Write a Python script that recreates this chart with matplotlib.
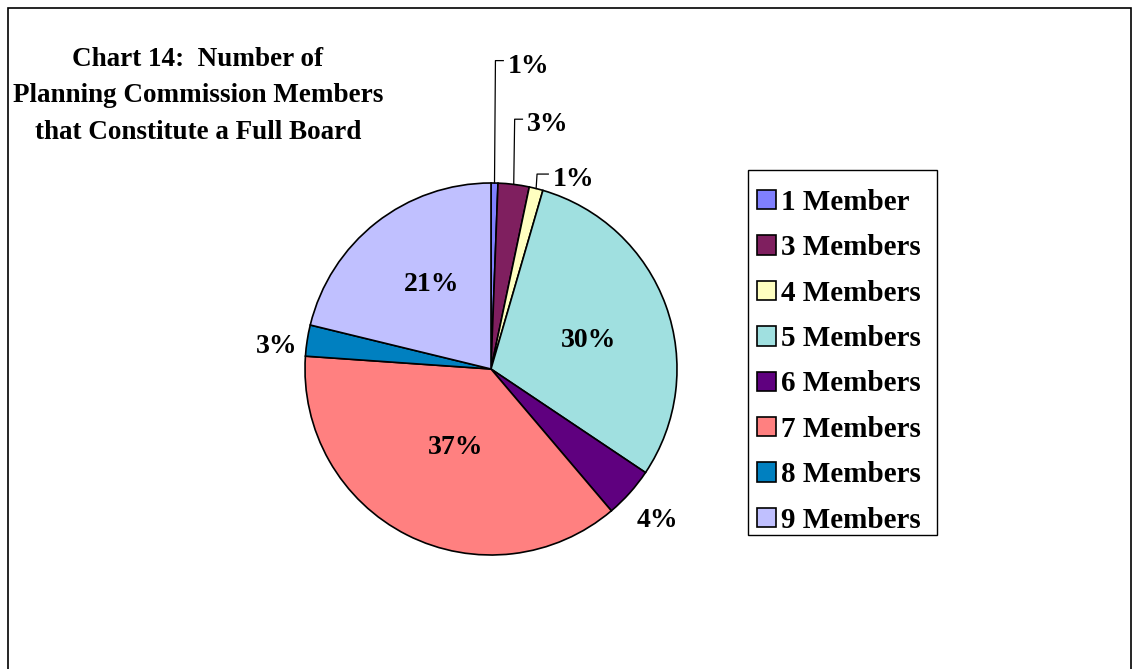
import numpy as np
import matplotlib.pyplot as plt
from matplotlib.patches import Rectangle

# Data (percent of respondents)
categories = ["1 Member", "3 Members", "4 Members", "5 Members",
              "6 Members", "7 Members", "8 Members", "9 Members"]
values = [0.6, 2.7, 1.2, 29.9, 4.4, 37.3, 2.7, 21.2]
colors = ["#8080FF", "#7F1F5F", "#FFFFC0", "#A0E0E0",
          "#5F007F", "#FF8080", "#0080C0", "#C0C0FF"]

W, H = 1135, 669
fig = plt.figure(figsize=(W / 100, H / 100), dpi=100)
plt.rcParams['font.family'] = ['Liberation Serif', 'DejaVu Serif']

# outer chart border
fig.add_artist(Rectangle((8 / W, -0.1), (1131 - 8) / W, (H - 8) / H + 0.1,
                         transform=fig.transFigure, fill=False,
                         lw=1.2, ec='black'))

cx, cy, r = 491, 369, 186
ax = fig.add_axes([(cx - r) / W, (H - cy - r) / H, 2 * r / W, 2 * r / H])
wedges, _ = ax.pie(values, colors=colors, startangle=90, counterclock=False,
                   wedgeprops=dict(edgecolor='black', linewidth=1.2))
ax.set_xlim(-1, 1)
ax.set_ylim(-1, 1)
ax.set_aspect('equal')
ax.axis('off')

fs = 20
# label placement: (radius, angle tweak in degrees) for labels on/next to slices
place = {3: (0.55, 2.3), 4: (1.2, 0.0), 5: (0.45, -1.5),
         6: (1.16, -2.2), 7: (0.565, 4.0)}
# small slices at the top: text x, text y (in pie radii)
top = {0: (0.091, 1.628), 1: (0.194, 1.313), 2: (0.333, 1.018)}

cum = np.cumsum([0] + values)
for i, v in enumerate(values):
    mid = np.radians((cum[i] + cum[i + 1]) / 2 / 100 * 360)
    sx, sy = np.sin(mid), np.cos(mid)
    lab = "%d%%" % round(v)
    if i in top:
        tx, ty = top[i]
        ly = ty + 0.03
        ax.plot([sx, sx + 0.005, tx - 0.025], [sy, ly, ly],
                color='black', lw=0.9, clip_on=False)
        ax.text(tx, ty, lab, ha='left', va='center',
                fontsize=fs, fontweight='bold', clip_on=False)
    else:
        rr, da = place[i]
        a = mid + np.radians(da)
        ax.text(rr * np.sin(a), rr * np.cos(a) - 0.015, lab,
                ha='center', va='center',
                fontsize=fs, fontweight='bold', clip_on=False)

fig.text(198 / W, 1 - 96 / H,
         "Chart 14:  Number of\nPlanning Commission Members\nthat Constitute a Full Board",
         ha='center', va='center', fontsize=19.5, fontweight='bold',
         linespacing=1.62)

# legend box drawn separately so the padding can match
fig.add_artist(Rectangle((748 / W, (H - 535) / H), 189 / W, 365 / H,
                         transform=fig.transFigure, fill=False,
                         lw=1.0, ec='black'))
leg = fig.legend(wedges, categories, loc='upper left',
                 bbox_to_anchor=(757 / W, 1 - 189 / H),
                 frameon=False, prop=dict(size=21, weight='bold'),
                 handlelength=0.65, handleheight=0.65, handletextpad=0.18,
                 labelspacing=0.63, borderpad=0, borderaxespad=0)

fig.savefig("out.png", dpi=100)
